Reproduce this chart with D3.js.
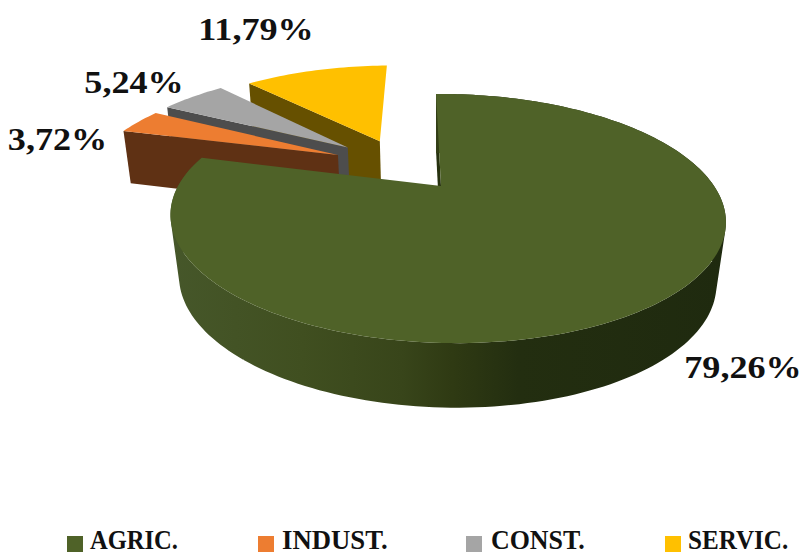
<!DOCTYPE html>
<html>
  <head>
    <meta charset="utf-8">
    <title>Sector shares</title>
    <script src="https://d3js.org/d3.v7.min.js"></script>
    <style>
      html, body { margin: 0; padding: 0; background: #fff; overflow: hidden; }
      text { font-family: "Liberation Serif", serif; font-weight: bold; fill: #111; }
    </style>
  </head>
  <body>
    <div id="chart"></div>
    <script>
      // Values
      var categories = ["AGRIC.", "INDUST.", "CONST.", "SERVIC."];
      var shares = [79.26, 3.72, 5.24, 11.79];
      var labels = ["79,26%", "3,72%", "5,24%", "11,79%"];

      // Colours of the top face and the flat cut faces
      var topColors = ["#4f6228", "#ed7d31", "#a5a5a5", "#ffc000"];
      var cutColors = ["#26310f", "#5f3114", "#4d4d4d", "#665000"];

      // Layout: how far each slice is pulled out on the pie plane, and text spots
      var explodeX = [0, -0.41, -0.375, -0.245];
      var explodeZ = [0, -0.29, -0.365, -0.43];
      var cutDepth = [1, 0.87, 1, 1];
      var labelX = [743, 57.5, 134, 256];
      var labelY = [378, 150, 93, 40];
      var legendSwatchX = [67, 258, 466, 665];
      var legendTextX = [90, 282, 491, 688];
      var legendScale = [0.91, 0.99, 0.96, 0.93];

      var width = 803, height = 554;

      var svg = d3.select("#chart").append("svg")
        .attr("width", width).attr("height", height);

      // Perspective of the tilted pie: radius 1, Z towards the viewer, h is depth below the top
      var camera = { cx: 441, cy: 186, d: 3.83, p: 0.0725, e: 0.12, a: 444.6, b: 1026, q: 24, c: 103, k: 36 };
      function project(X, Z, h) {
        var w = camera.d - Z - camera.p * X + camera.e * h;
        return [camera.cx + (camera.b * X + camera.q * Z) / w,
                camera.cy + (camera.a * Z + camera.c * h) / w + camera.k * h];
      }

      var pie = d3.pie().sort(null).value(function(d) { return d; });
      var arcs = pie(shares);

      // Points along the rim of a slice (angle 0 is away from the viewer, clockwise)
      function rim(arc, i, h) {
        var n = Math.max(4, Math.ceil((arc.endAngle - arc.startAngle) * 40));
        return d3.range(n + 1).map(function(k) {
          return edge(i, arc.startAngle + (arc.endAngle - arc.startAngle) * k / n, h);
        });
      }
      function hub(i, h) { return project(explodeX[i], explodeZ[i], h); }
      function edge(i, t, h) { return project(explodeX[i] + Math.sin(t), explodeZ[i] - Math.cos(t), h); }

      var line = d3.line();
      function shape(points) { return line(points) + "Z"; }

      // Gradient of the round wall of the big slice
      var wallStops = [[0, "#46572a"], [0.24, "#404f20"], [0.42, "#38451a"], [0.51, "#2f3a13"], [0.63, "#232e10"], [1, "#1f2a0f"]];
      var grad = svg.append("defs").append("linearGradient")
        .attr("id", "wall").attr("gradientUnits", "userSpaceOnUse")
        .attr("x1", 169).attr("x2", 724).attr("y1", 0).attr("y2", 0);
      grad.selectAll("stop").data(wallStops).enter().append("stop")
        .attr("offset", function(d) { return d[0]; })
        .attr("stop-color", function(d) { return d[1]; });

      // Painter's order: back slices first, the big slice last
      [3, 2, 1, 0].forEach(function(i) {
        var arc = arcs[i];
        var g = svg.append("g");
        var depth = cutDepth[i];
        // the cut face at the start angle is the one we can see
        g.append("path")
          .attr("d", shape([hub(i, 0), edge(i, arc.startAngle, 0), edge(i, arc.startAngle, depth), hub(i, depth)]))
          .attr("fill", cutColors[i]);
        // only the big slice shows its round wall: all strips in one path, wound the same way
        if (i === 0) {
          var upper = rim(arc, i, 0), lower = rim(arc, i, 1);
          var strips = d3.range(upper.length - 1).map(function(k) {
            var quad = [upper[k], upper[k + 1], lower[k + 1], lower[k]];
            return shape(d3.polygonArea(quad) < 0 ? quad.reverse() : quad);
          });
          g.append("path")
            .attr("d", strips.join(""))
            .attr("fill", "url(#wall)");
        }
        // top face
        g.append("path")
          .attr("d", shape([hub(i, 0)].concat(rim(arc, i, 0))))
          .attr("fill", topColors[i]);
      });

      // Data labels, a little wider than the font
      svg.selectAll(".label").data(labels).enter().append("text")
        .attr("class", "label")
        .attr("transform", function(d, i) { return "translate(" + labelX[i] + "," + labelY[i] + ") scale(1.13,1)"; })
        .attr("text-anchor", "middle")
        .style("font-size", "32px")
        .text(function(d) { return d; });

      // Legend
      svg.selectAll(".swatch").data(categories).enter().append("rect")
        .attr("class", "swatch")
        .attr("x", function(d, i) { return legendSwatchX[i]; })
        .attr("y", 536).attr("width", 16).attr("height", 16)
        .attr("fill", function(d, i) { return topColors[i]; });
      svg.selectAll(".legend").data(categories).enter().append("text")
        .attr("class", "legend")
        .attr("transform", function(d, i) { return "translate(" + legendTextX[i] + ",548.5) scale(" + legendScale[i] + ",1)"; })
        .style("font-size", "27px")
        .text(function(d) { return d; });
    </script>
  </body>
</html>
